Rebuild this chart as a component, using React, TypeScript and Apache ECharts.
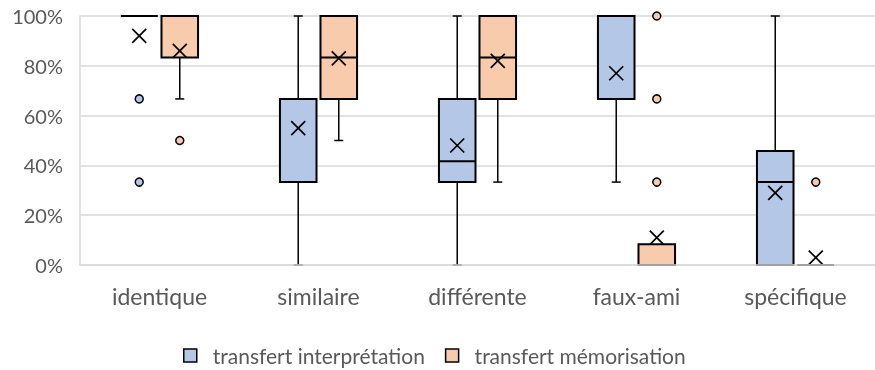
import React, { useEffect, useRef } from 'react';
import * as echarts from 'echarts';

const categories = ['identique', 'similaire', 'différente', 'faux-ami', 'spécifique'];
const seriesNames = ['transfert interprétation', 'transfert mémorisation'];
const yTicks = [0, 0.2, 0.4, 0.6, 0.8, 1];

// [min, q1, median, q3, max]
const interpBox = [
  [1, 1, 1, 1, 1],
  [0, 0.333, 0.667, 0.667, 1],
  [0, 0.333, 0.417, 0.667, 1],
  [0.333, 0.667, 1, 1, 1],
  [0, 0, 0.333, 0.458, 1],
];
const interpMean = [0.92, 0.55, 0.48, 0.77, 0.29];
const interpOutliers = [[0.667, 0.333], [], [], [], []];

const memoBox = [
  [0.667, 0.833, 1, 1, 1],
  [0.5, 0.667, 0.833, 1, 1],
  [0.333, 0.667, 0.833, 1, 1],
  [0, 0, 0, 0.083, 0.083],
  [0, 0, 0, 0, 0],
];
const memoMean = [0.86, 0.83, 0.82, 0.11, 0.03];
const memoOutliers = [[0.5], [], [], [1, 0.667, 0.333], [0.333]];

const FILLS = ['#B4C7E7', '#F8CBAD'];
const TEXT = '#595959';
const GRID = '#D9D9D9';
const FONT = 'Lato, "Open Sans", sans-serif';

function makeRenderItem(sign: number, fill: string, outliers: number[][]) {
  return (params: any, api: any) => {
    const cat = api.value(0);
    const mn = api.value(1);
    const q1 = api.value(2);
    const med = api.value(3);
    const q3 = api.value(4);
    const mx = api.value(5);
    const mean = api.value(6);
    const band = api.size([1, 0])[0];
    const cx = api.coord([cat, 0])[0] + sign * band * 0.1275;
    const hw = band * 0.115;
    const y = (v: number) => api.coord([cat, v])[1];
    const lineStyle = { stroke: '#000', lineWidth: 1.5 };
    const children: any[] = [];
    if (mn < q1) {
      children.push({ type: 'line', shape: { x1: cx, y1: y(q1), x2: cx, y2: y(mn) }, style: lineStyle });
      children.push({ type: 'line', shape: { x1: cx - 4.5, y1: y(mn), x2: cx + 4.5, y2: y(mn) }, style: lineStyle });
    }
    if (mx > q3) {
      children.push({ type: 'line', shape: { x1: cx, y1: y(q3), x2: cx, y2: y(mx) }, style: lineStyle });
      children.push({ type: 'line', shape: { x1: cx - 4.5, y1: y(mx), x2: cx + 4.5, y2: y(mx) }, style: lineStyle });
    }
    if (q3 > q1) {
      children.push({
        type: 'rect',
        shape: { x: cx - hw, y: y(q3), width: hw * 2, height: y(q1) - y(q3) },
        style: { fill, stroke: '#000', lineWidth: 2 },
      });
    } else {
      children.push({ type: 'line', shape: { x1: cx - hw, y1: y(q1), x2: cx + hw, y2: y(q1) }, style: { stroke: '#000', lineWidth: 2 } });
    }
    children.push({ type: 'line', shape: { x1: cx - hw, y1: y(med), x2: cx + hw, y2: y(med) }, style: { stroke: '#000', lineWidth: 2 } });
    const my = y(mean);
    const s = 7;
    children.push({ type: 'line', shape: { x1: cx - s, y1: my - s, x2: cx + s, y2: my + s }, style: { stroke: '#000', lineWidth: 1.7 } });
    children.push({ type: 'line', shape: { x1: cx - s, y1: my + s, x2: cx + s, y2: my - s }, style: { stroke: '#000', lineWidth: 1.7 } });
    (outliers[params.dataIndex] || []).forEach((o) => {
      children.push({ type: 'circle', shape: { cx, cy: y(o), r: 4 }, style: { fill, stroke: '#000', lineWidth: 1.5 } });
    });
    return { type: 'group', children };
  };
}

function buildData(box: number[][], mean: number[]) {
  return box.map((b, i) => [i, b[0], b[1], b[2], b[3], b[4], mean[i]]);
}

export default function App() {
  const ref = useRef<HTMLDivElement>(null);
  useEffect(() => {
    if (!ref.current) return;
    const chart = echarts.init(ref.current, null, { renderer: 'svg' });
    chart.setOption({
      animation: false,
      grid: { left: 80, top: 16, width: 804, height: 249, containLabel: false },
      legend: {
        left: 178,
        top: 340,
        itemWidth: 13,
        itemHeight: 13,
        itemGap: 20,
        icon: 'rect',
        textStyle: { fontSize: 21, color: TEXT, fontFamily: FONT, padding: [0, 0, 0, 11] },
        data: seriesNames.map((n, i) => ({ name: n, itemStyle: { color: FILLS[i], borderColor: '#000', borderWidth: 1.5 } })),
      },
      xAxis: {
        type: 'category',
        data: categories,
        z: 10,
        axisLine: { lineStyle: { color: GRID, width: 1.5 } },
        axisTick: { show: false },
        axisLabel: { color: TEXT, fontSize: 23, fontFamily: FONT, margin: 19 },
      },
      yAxis: {
        type: 'value',
        min: yTicks[0],
        max: yTicks[yTicks.length - 1],
        interval: 0.2,
        axisLine: { show: true, lineStyle: { color: GRID, width: 1.5 } },
        axisTick: { show: false },
        splitLine: { lineStyle: { color: GRID, width: 1.5 } },
        axisLabel: { color: TEXT, fontSize: 20, fontFamily: FONT, margin: 17, formatter: (v: number) => Math.round(v * 100) + '%' },
      },
      series: [
        {
          type: 'custom',
          name: seriesNames[0],
          itemStyle: { color: FILLS[0] },
          renderItem: makeRenderItem(-1, FILLS[0], interpOutliers),
          encode: { x: 0, y: [1, 2, 3, 4, 5, 6] },
          data: buildData(interpBox, interpMean),
        },
        {
          type: 'custom',
          name: seriesNames[1],
          itemStyle: { color: FILLS[1] },
          renderItem: makeRenderItem(1, FILLS[1], memoOutliers),
          encode: { x: 0, y: [1, 2, 3, 4, 5, 6] },
          data: buildData(memoBox, memoMean),
        },
      ],
    });
    return () => chart.dispose();
  }, []);
  return <div ref={ref} style={{ position: 'fixed', left: 0, top: 0, width: 875, height: 370 }} />;
}
